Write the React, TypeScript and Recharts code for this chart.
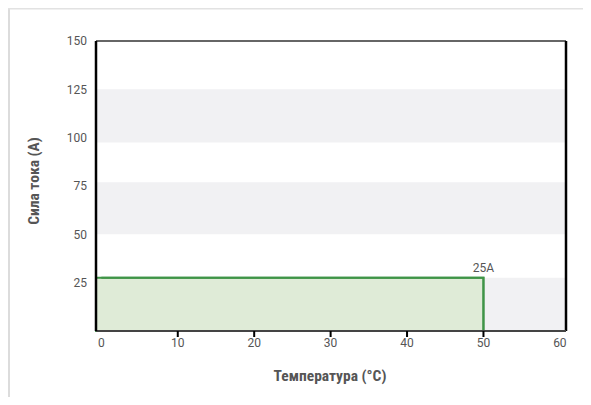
import React from "react";
import {
  ComposedChart, Line, XAxis, YAxis, ReferenceArea, ReferenceDot, ReferenceLine,
} from "recharts";

// ─── Data ─────────────────────────────────────────────────────────────────────
const xTicks = [0, 10, 20, 30, 40, 50, 60];
const yTicks = [25, 50, 75, 100, 125, 150];
// alternating grey row bands (value ranges on the current axis)
const bandFrom = [0, 50, 97.5];
const bandTo = [27.5, 77, 125];
// limit curve: current held until max temperature, then cut to zero
const limitTemp = [0, 50, 50];
const limitCurrent = [27.5, 27.5, 0];
const limitLabel = "25A";

const xTitle = "Температура (°C)";
const yTitle = "Сила тока (A)";

const X_DOMAIN: [number, number] = [-0.7, 60.8];
const Y_DOMAIN: [number, number] = [0, 150];

const limitData = limitTemp.map((t, i) => ({ t, a: limitCurrent[i] }));
const maxTemp = limitTemp[limitTemp.length - 1];
const maxCurrent = Math.max(...limitCurrent);

const TICK_FONT = "Roboto, 'Liberation Sans', sans-serif";
const TITLE_FONT = "'Liberation Sans Narrow', 'Roboto Condensed', Roboto, sans-serif";
const AXIS_Y = 331;

// x tick: label + short mark (no mark on the frame edges)
function XTick(props: any) {
  const { x, payload } = props;
  const v = payload.value;
  const edge = v === xTicks[0] || v === xTicks[xTicks.length - 1];
  return (
    <g>
      {!edge && <rect x={x - 1} y={AXIS_Y} width={2} height={6} fill="#000" />}
      <text x={x} y={AXIS_Y + 16} textAnchor="middle" fontSize={12} fill="#555" fontFamily={TICK_FONT}>
        {v}
      </text>
    </g>
  );
}

// y title, plus the light card edge (anything left of x=8 / above y=8 is clipped by the page)
function YTitle() {
  return (
    <g>
      <rect x={8} y={8} width={2} height={397} fill="#dcdcdc" />
      <rect x={8} y={8} width={583} height={1.5} fill="#e2e2e2" />
      <text x={0} y={0} transform="translate(39,181) rotate(-90)" textAnchor="middle"
            fontSize={15.5} fontWeight="bold" fill="#555" fontFamily={TITLE_FONT}>
        {yTitle}
      </text>
    </g>
  );
}

export default function App() {
  return (
    <div style={{ position: "relative", width: 591, height: 405, margin: -8, overflow: "hidden", background: "#fff" }}>
      <ComposedChart width={591} height={405} data={limitData}
                     margin={{ top: 41, right: 25, bottom: 0, left: 0 }}>
        {bandFrom.map((f, i) => (
          <ReferenceArea key={i} y1={f} y2={bandTo[i]} fill="#f1f1f3" fillOpacity={1} stroke="none" ifOverflow="visible" />
        ))}
        <ReferenceArea x2={maxTemp} y1={0} y2={maxCurrent} fill="#dfebd7" fillOpacity={1}
                       stroke="#3f9447" strokeWidth={2} ifOverflow="visible" />
        <Line dataKey="a" type="linear" stroke="#3f9447" strokeWidth={2} dot={false}
              activeDot={false} isAnimationActive={false} />
        <ReferenceDot x={maxTemp} y={maxCurrent} r={0} stroke="none" fill="none" ifOverflow="visible"
                      label={{ value: limitLabel, position: "top", offset: 6, fontSize: 12, fill: "#555", fontFamily: TICK_FONT }} />
        {/* frame: top and right edges */}
        <ReferenceLine y={Y_DOMAIN[1]} stroke="#333" strokeWidth={1.5} ifOverflow="visible" />
        <ReferenceLine x={X_DOMAIN[1]} stroke="#000" strokeWidth={2.5} ifOverflow="visible" />
        <XAxis type="number" dataKey="t" domain={X_DOMAIN} ticks={xTicks} interval={0} height={74}
               tickLine={false} tickSize={5} tickMargin={2} tick={<XTick />}
               axisLine={{ stroke: "#444", strokeWidth: 2 }}
               label={{
                 content: () => (
                   <text x={330} y={381} textAnchor="middle" fontSize={15.5} fontWeight="bold" fill="#555" fontFamily={TITLE_FONT}>
                     {xTitle}
                   </text>
                 ),
               }} />
        <YAxis type="number" domain={Y_DOMAIN} ticks={yTicks} interval={0} width={96}
               tickLine={false} tickSize={0} tickMargin={9}
               tick={{ fontSize: 12, fill: "#555", fontFamily: TICK_FONT }}
               axisLine={{ stroke: "#000", strokeWidth: 2.5 }}
               label={{ content: () => <YTitle /> }} />
      </ComposedChart>
    </div>
  );
}
